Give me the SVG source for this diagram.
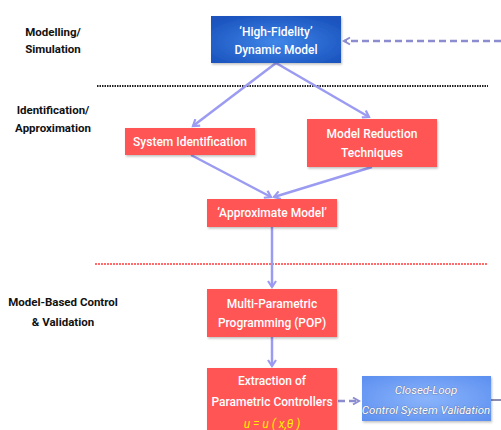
<svg xmlns="http://www.w3.org/2000/svg" width="501" height="430" viewBox="0 0 501 430">
  <defs>
    <radialGradient id="gBlue" cx="50%" cy="55%" r="65%">
      <stop offset="0" stop-color="#3f86e8"/>
      <stop offset="1" stop-color="#1a52bd"/>
    </radialGradient>
    <radialGradient id="gLight" cx="50%" cy="50%" r="70%">
      <stop offset="0" stop-color="#8ab4fb"/>
      <stop offset="1" stop-color="#5c8ff0"/>
    </radialGradient>
    <filter id="shadow" x="-10%" y="-10%" width="125%" height="130%">
      <feDropShadow dx="1" dy="1.5" stdDeviation="1" flood-color="#000" flood-opacity="0.25"/>
    </filter>
    <marker id="arrow" markerWidth="10" markerHeight="10" refX="7" refY="5" orient="auto" markerUnits="userSpaceOnUse">
      <polyline points="1,1 7,5 1,9" fill="none" stroke="#9b9bf2" stroke-width="2.2" stroke-linejoin="miter"/>
    </marker>
    <marker id="arrowDash" markerWidth="10" markerHeight="10" refX="7" refY="5" orient="auto" markerUnits="userSpaceOnUse">
      <polyline points="1,1.5 7,5 1,8.5" fill="none" stroke="#8c8cd0" stroke-width="2" stroke-linejoin="miter"/>
    </marker>
  </defs>
  <style>
    .lbl { font-family: Roboto, "Liberation Sans", sans-serif; font-weight: 700; font-size: 11.5px; fill: #111; text-anchor: middle; }
    .box { fill: #ff5454; filter: url(#shadow); }
    .txt { font-family: Roboto, "Liberation Sans", sans-serif; font-weight: 500; font-size: 12px; fill: #fff; text-anchor: middle; }
    .itx { font-family: Roboto, "Liberation Sans", sans-serif; font-style: italic; font-size: 11.5px; fill: #fff; text-anchor: middle; stroke: #5a6a90; stroke-width: 0.6px; paint-order: stroke; }
    .conn { stroke: #9b9bf2; stroke-width: 2.5; fill: none; marker-end: url(#arrow); }
    .dash { stroke: #8c8cd0; stroke-width: 2.5; fill: none; stroke-dasharray: 7 4; }
  </style>

  <rect width="501" height="430" fill="#fff"/>

  <!-- stage labels -->
  <g id="stage-labels">
    <text class="lbl" x="53" y="36">Modelling/</text>
    <text class="lbl" x="53" y="53">Simulation</text>
    <text class="lbl" x="53" y="114">Identification/</text>
    <text class="lbl" x="53" y="132">Approximation</text>
    <text class="lbl" x="63" y="306">Model-Based Control</text>
    <text class="lbl" x="63" y="326">&amp; Validation</text>
  </g>

  <!-- stage separators -->
  <g id="separators">
    <line x1="97" y1="86" x2="488" y2="86" stroke="#222" stroke-width="2" stroke-dasharray="1.5 1"/>
    <line x1="95" y1="264" x2="487" y2="264" stroke="#ff6b6b" stroke-width="2" stroke-dasharray="2 1"/>
  </g>

  <!-- connectors -->
  <g id="connectors">
    <line class="conn" x1="276" y1="63" x2="193" y2="126"/>
    <line class="conn" x1="276" y1="63" x2="369" y2="117"/>
    <line class="conn" x1="191" y1="155" x2="271" y2="197"/>
    <line class="conn" x1="372" y1="167" x2="274" y2="197"/>
    <line class="conn" x1="272" y1="227" x2="272" y2="287"/>
    <line class="conn" x1="272" y1="337" x2="272" y2="366"/>
    <line class="dash" x1="501" y1="41" x2="344" y2="41" marker-end="url(#arrowDash)"/>
    <line class="dash" x1="338" y1="401" x2="359" y2="401" stroke-dasharray="6 4" marker-end="url(#arrowDash)"/>
    <line x1="491" y1="400" x2="501" y2="400" stroke="#8c8cb0" stroke-width="2"/>
  </g>

  <!-- nodes -->
  <g id="high-fidelity-model">
    <rect x="211" y="16" width="130" height="47" fill="url(#gBlue)" filter="url(#shadow)"/>
    <text class="txt" x="276" y="36">‘High-Fidelity’</text>
    <text class="txt" x="276" y="54">Dynamic Model</text>
  </g>

  <g id="system-identification">
    <rect class="box" x="125" y="128" width="130" height="27"/>
    <text class="txt" x="190" y="146">System Identification</text>
  </g>

  <g id="model-reduction">
    <rect class="box" x="307" y="119" width="130" height="48"/>
    <text class="txt" x="372" y="138">Model Reduction</text>
    <text class="txt" x="372" y="157">Techniques</text>
  </g>

  <g id="approximate-model">
    <rect class="box" x="207" y="199" width="130" height="28"/>
    <text class="txt" x="272" y="217">‘Approximate Model’</text>
  </g>

  <g id="multi-parametric-programming">
    <rect class="box" x="207" y="289" width="130" height="48"/>
    <text class="txt" x="272" y="308">Multi-Parametric</text>
    <text class="txt" x="272" y="327">Programming (POP)</text>
  </g>

  <g id="parametric-controllers">
    <rect class="box" x="207" y="368" width="130" height="70"/>
    <text class="txt" x="272" y="385">Extraction of</text>
    <text class="txt" x="272" y="406">Parametric Controllers</text>
    <text x="272" y="428" font-family="Roboto, 'Liberation Sans', sans-serif" font-style="italic" font-size="12px" fill="#ffee00" text-anchor="middle">u = u ( x,θ )</text>
  </g>

  <g id="closed-loop-validation">
    <rect x="362" y="376" width="129" height="45" fill="url(#gLight)" filter="url(#shadow)"/>
    <text class="itx" x="426" y="394">Closed-Loop</text>
    <text class="itx" x="426" y="414">Control System Validation</text>
  </g>
</svg>
